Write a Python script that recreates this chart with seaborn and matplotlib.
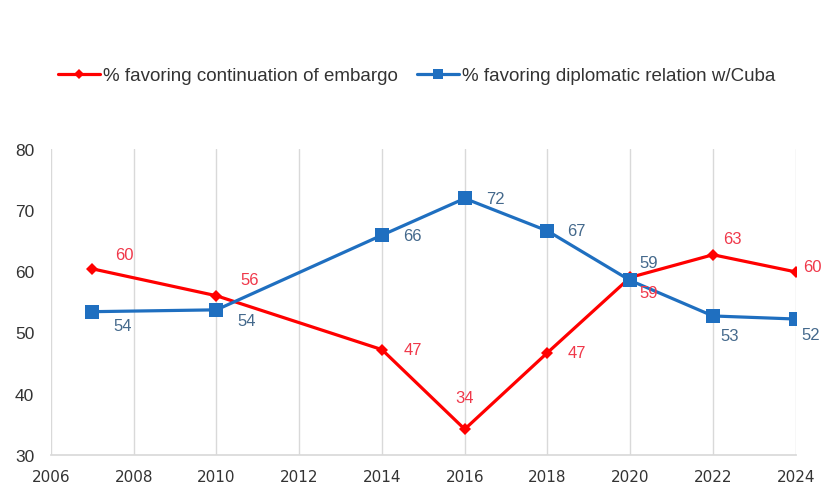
import matplotlib.pyplot as plt
import seaborn as sns
import pandas as pd

years = [2007, 2010, 2014, 2016, 2018, 2020, 2022, 2024]
embargo = [60.4, 56.0, 47.2, 34.2, 46.7, 59.0, 62.7, 59.9]
diplomatic = [53.4, 53.7, 65.9, 71.9, 66.6, 58.5, 52.7, 52.2]
embargo_labels = ["60", "56", "47", "34", "47", "59", "63", "60"]
diplomatic_labels = ["54", "54", "66", "72", "67", "59", "53", "52"]
x_ticks = list(range(2006, 2025, 2))
y_ticks = [30, 40, 50, 60, 70, 80]

name_emb = "% favoring continuation of embargo"
name_dip = "% favoring diplomatic relation w/Cuba"

df = pd.DataFrame({
    "year": years * 2,
    "value": embargo + diplomatic,
    "series": [name_emb] * len(years) + [name_dip] * len(years),
})

sns.set_theme(style="white")
plt.rcParams["font.family"] = ["Liberation Sans", "DejaVu Sans"]

red = "#ff0000"
blue = "#1f6fc0"
red_text = "#f0384a"
blue_text = "#44698c"

fig = plt.figure(figsize=(8.22, 4.85), dpi=100)
ax = fig.add_axes([0.062, 0.06, 0.906, 0.631])

sns.lineplot(data=df, x="year", y="value", hue="series", style="series",
             palette={name_emb: red, name_dip: blue},
             markers={name_emb: "D", name_dip: "s"},
             dashes=False, linewidth=2.3, ax=ax, legend="brief")

for line in ax.get_lines():
    line.set_markeredgewidth(0)
    if line.get_marker() == "s":
        line.set_markersize(10)
    else:
        line.set_markersize(6)

ax.set_xlim(2006, 2024)
ax.set_ylim(30, 80)
ax.set_xticks(x_ticks)
ax.set_yticks(y_ticks)
ax.set_xlabel("")
ax.set_ylabel("")
ax.grid(axis="x", color="#d9d9d9", linewidth=1)
ax.grid(axis="y", visible=False)
for s in ["top", "left", "right"]:
    ax.spines[s].set_visible(False)
ax.spines["bottom"].set_color("#d9d9d9")
ax.tick_params(axis="y", length=0, pad=12, labelsize=12.5, labelcolor="#333333")
ax.tick_params(axis="x", length=0, pad=10, labelcolor="#333333")
for t in ax.get_xticklabels():
    t.set_fontfamily("DejaVu Sans")
    t.set_fontsize(11)

emb_off = [(23, 10), (24, 12), (22, 0), (0, 23), (21, 0), (13, -11), (14, 12), (12, 4)]
dip_off = [(22, -10), (22, -8), (22, 0), (22, 0), (21, 0), (13, 13), (12, -14), (11, -11)]
for x, y, lab, off in zip(years, embargo, embargo_labels, emb_off):
    ax.annotate(lab, (x, y), xytext=off, textcoords="offset points", ha="center", va="center",
                fontsize=12, color=red_text, annotation_clip=False)
for x, y, lab, off in zip(years, diplomatic, diplomatic_labels, dip_off):
    ax.annotate(lab, (x, y), xytext=off, textcoords="offset points", ha="center", va="center",
                fontsize=12, color=blue_text, annotation_clip=False)

handles, labels = ax.get_legend_handles_labels()
leg = ax.legend(handles, labels, loc="center", bbox_to_anchor=(0.507, 0.842), bbox_transform=fig.transFigure,
                ncol=2, frameon=False, fontsize=13.5, handlelength=2.25, columnspacing=1.0,
                handletextpad=0.15, labelcolor="#333333")
for h in leg.legend_handles:
    h.set_markeredgewidth(0)
    h.set_markersize(7 if h.get_marker() == "s" else 5)

fig.savefig("out.png", dpi=100)
